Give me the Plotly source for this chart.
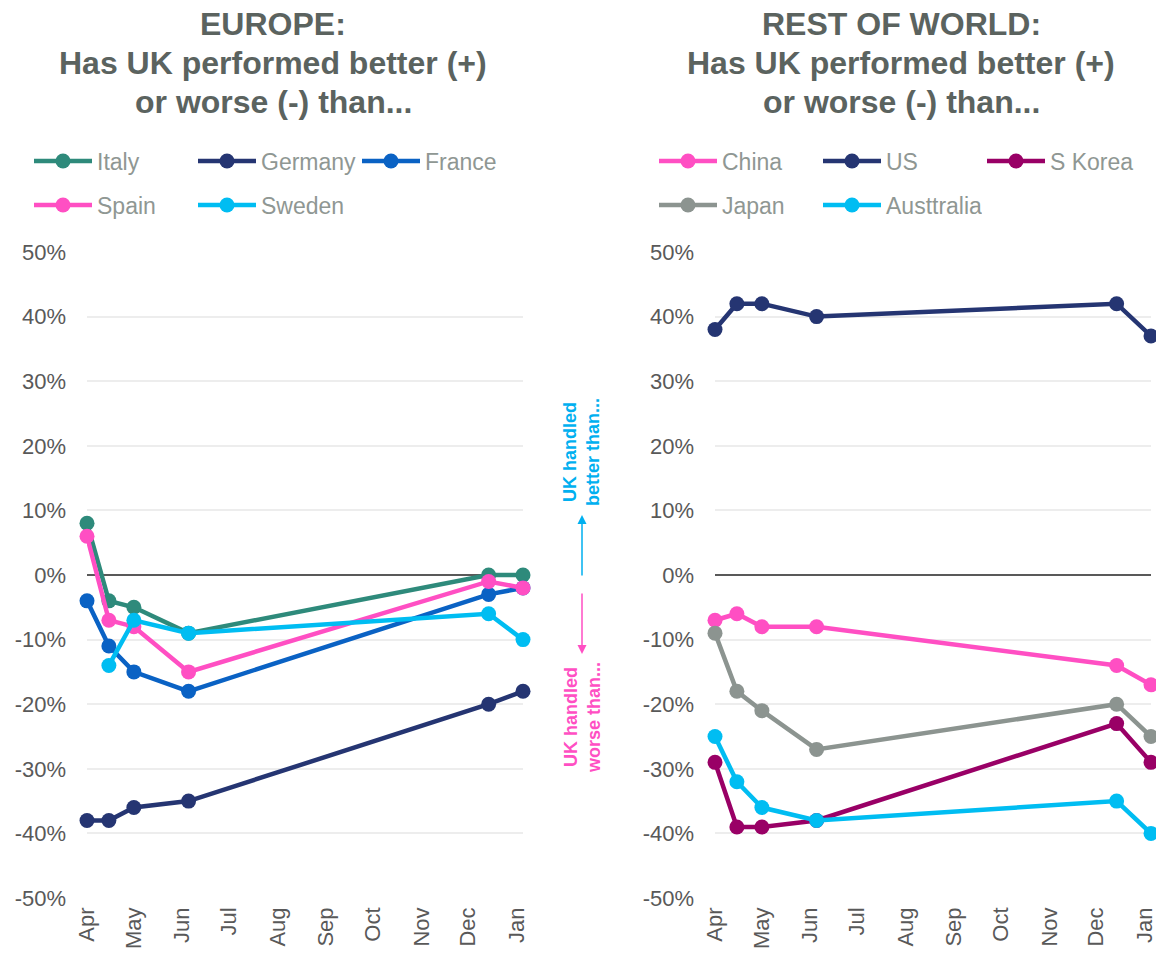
import plotly.graph_objects as go

# ---------------- data ----------------
dates = ["2020-04-01", "2020-04-15", "2020-05-01", "2020-06-05", "2020-12-14", "2021-01-05"]

# Europe (% difference)
italy = [8, -4, -5, -9, 0, 0]
germany = [-38, -38, -36, -35, -20, -18]
france = [-4, -11, -15, -18, -3, -2]
spain = [6, -7, -8, -15, -1, -2]
sweden = [None, -14, -7, -9, -6, -10]

# Rest of world (% difference)
china = [-7, -6, -8, -8, -14, -17]
us = [38, 42, 42, 40, 42, 37]
s_korea = [-29, -39, -39, -38, -23, -29]
japan = [-9, -18, -21, -27, -20, -25]
australia = [-25, -32, -36, -38, -35, -40]

y_tickvals = [-50, -40, -30, -20, -10, 0, 10, 20, 30, 40, 50]
y_ticktext = ["-50%", "-40%", "-30%", "-20%", "-10%", "0%", "10%", "20%", "30%", "40%", "50%"]

title_lines_left = ["EUROPE:", "Has UK performed better (+)", "or worse (-) than..."]
title_lines_right = ["REST OF WORLD:", "Has UK performed better (+)", "or worse (-) than..."]

# ---------------- styling ----------------
FONT = "Liberation Sans, Arial, sans-serif"
TEAL = "#2E8A7B"
NAVY = "#253572"
BLUE = "#0A62C4"
PINK = "#FF4FC3"
CYAN = "#00BDF2"
PURPLE = "#990066"
GREY = "#8C9490"
TITLE_C = "#5B635F"
TICK_C = "#595959"
LEG_C = "#8F9793"

# body margin is removed below, so figure pixels == reference pixels
W, H = 1156, 957

def px(xr):
    return xr / W

def py(yr):
    return 1 - yr / H

fig = go.Figure()

def add(name, vals, color, xa, ya, legend):
    fig.add_trace(go.Scatter(
        x=dates, y=vals, name=name, mode="lines+markers",
        line=dict(color=color, width=4.5),
        marker=dict(color=color, size=15),
        xaxis=xa, yaxis=ya, legend=legend, connectgaps=False,
        cliponaxis=False,
    ))

add("Italy", italy, TEAL, "x", "y", "legend")
add("Germany", germany, NAVY, "x", "y", "legend")
add("France", france, BLUE, "x", "y", "legend")
add("Spain", spain, PINK, "x", "y", "legend2")
add("Sweden", sweden, CYAN, "x", "y", "legend2")

add("China", china, PINK, "x2", "y2", "legend3")
add("US", us, NAVY, "x2", "y2", "legend3")
add("S Korea", s_korea, PURPLE, "x2", "y2", "legend3")
add("Japan", japan, GREY, "x2", "y2", "legend4")
add("Austtralia", australia, CYAN, "x2", "y2", "legend4")

ydom = [py(898), py(252)]
xdom1 = [px(87), px(523)]
xdom2 = [px(715), px(1151)]

xcommon = dict(
    type="date", range=["2020-04-01", "2021-01-05"],
    tick0="2020-04-01", dtick="M1", tickformat="%b", tickangle=-90,
    showgrid=False, showline=False, zeroline=False, ticks="",
    ticklabelstandoff=4, ticklabeloverflow="allow",
    tickfont=dict(family=FONT, size=22, color=TICK_C), automargin=False,
)
ycommon = dict(
    range=[-50, 50], tickvals=y_tickvals, ticktext=y_ticktext,
    showgrid=True, gridcolor="#EDEDED", gridwidth=1.5,
    zeroline=True, zerolinecolor="#595959", zerolinewidth=1.5,
    showline=False, ticks="", ticklabelstandoff=20,
    tickfont=dict(family=FONT, size=22, color=TICK_C), automargin=False,
)

leg_common = dict(
    orientation="h", xanchor="left", yanchor="middle",
    font=dict(family=FONT, size=23, color=LEG_C),
    itemwidth=58, entrywidth=91, entrywidthmode="pixels",
    bgcolor="rgba(0,0,0,0)", borderwidth=0, traceorder="normal",
    itemclick=False, itemdoubleclick=False,
)

fig.update_layout(
    width=W, height=H,
    margin=dict(l=0, r=0, t=0, b=0),
    paper_bgcolor="white", plot_bgcolor="white",
    showlegend=True,
    xaxis=dict(domain=xdom1, anchor="y", **xcommon),
    yaxis=dict(domain=ydom, anchor="x", **ycommon),
    xaxis2=dict(domain=xdom2, anchor="y2", **xcommon),
    yaxis2=dict(domain=ydom, anchor="x2", **ycommon),
    legend=dict(x=px(29), y=py(161), **leg_common),
    legend2=dict(x=px(29), y=py(205), **leg_common),
    legend3=dict(x=px(654), y=py(161), **leg_common),
    legend4=dict(x=px(654), y=py(205), **leg_common),
)

title_font = dict(family=FONT, size=32, color=TITLE_C)
for lines, cx in ((title_lines_left, 273), (title_lines_right, 901)):
    for line, cy in zip(lines, (24, 63, 102)):
        fig.add_annotation(
            text="<b>" + line + "</b>",
            x=px(cx), y=py(cy), xref="paper", yref="paper",
            xanchor="center", yanchor="middle", showarrow=False, font=title_font,
        )

# centre guide labels and arrows
fig.add_annotation(
    text="<b>UK handled<br>better than...</b>", textangle=-90,
    x=px(582), y=py(452), xref="paper", yref="paper",
    xanchor="center", yanchor="middle", showarrow=False,
    font=dict(family=FONT, size=18, color="#00B0F0"), align="center",
)
fig.add_annotation(
    text="<b>UK handled<br>worse than...</b>", textangle=-90,
    x=px(582), y=py(718), xref="paper", yref="paper",
    xanchor="center", yanchor="middle", showarrow=False,
    font=dict(family=FONT, size=18, color="#FF4FC3"), align="center",
)
fig.add_annotation(
    text="", x=px(582), y=py(515), xref="paper", yref="paper",
    ax=0, ay=62, showarrow=True, arrowhead=2, arrowsize=1.2, arrowwidth=1.5,
    arrowcolor="#00B0F0", standoff=0,
)
fig.add_annotation(
    text="", x=px(582), y=py(654), xref="paper", yref="paper",
    ax=0, ay=-62, showarrow=True, arrowhead=2, arrowsize=1.2, arrowwidth=1.5,
    arrowcolor="#FF4FC3", standoff=0,
)

fig.write_html(
    "out.html",
    config={"displayModeBar": False},
    default_width="%dpx" % W,
    default_height="%dpx" % H,
    post_script=(
        "document.body.style.margin='0';"
        "document.documentElement.style.overflow='hidden';"
        "document.body.style.overflow='hidden';"
    ),
)
